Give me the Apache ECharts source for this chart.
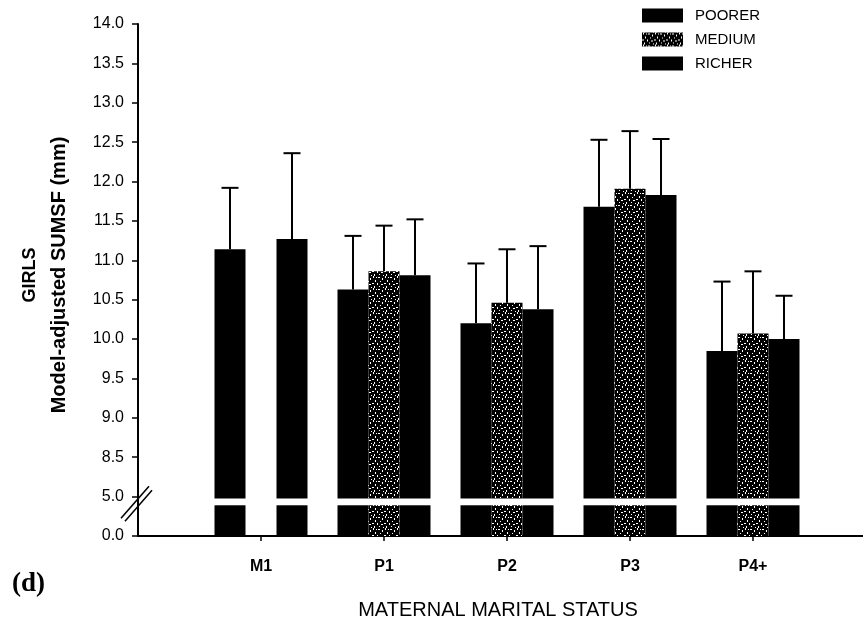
<!DOCTYPE html>
<html>
<head>
<meta charset="utf-8">
<title>GIRLS – Model-adjusted SUMSF by maternal marital status</title>
<script src="https://cdn.jsdelivr.net/npm/echarts@6/dist/echarts.min.js"></script>
<style>
  html, body { margin: 0; padding: 0; background: #fff; }
  #chart { width: 863px; height: 629px; }
</style>
</head>
<body>
<div id="chart"></div>
<script>
// ---- data -------------------------------------------------------------
const categories = ['M1', 'P1', 'P2', 'P3', 'P4+'];
const levels = ['POORER', 'MEDIUM', 'RICHER'];

// model-adjusted means (mm); no MEDIUM group for M1
const poorer = [11.14, 10.63, 10.20, 11.68, 9.85];
const medium = [null, 10.86, 10.46, 11.91, 10.07];
const richer = [11.27, 10.81, 10.38, 11.83, 10.00];

// upper error (SE) drawn above each bar
const poorerSE = [0.78, 0.68, 0.76, 0.85, 0.88];
const mediumSE = [null, 0.58, 0.68, 0.73, 0.79];
const richerSE = [1.09, 0.71, 0.80, 0.71, 0.55];

// y-axis tick labels, one per tick (axis is broken below 8.5)
const yTickLabels = ['0.0', '5.0', '8.5', '9.0', '9.5', '10.0', '10.5',
  '11.0', '11.5', '12.0', '12.5', '13.0', '13.5', '14.0'];

// ---- broken-axis scale: 0–5 and 5–8.5 each squeezed into one tick step
function toAxis(v) {
  if (v <= 5) return v / 5;
  if (v <= 8.5) return 1 + (v - 5) / 3.5;
  return 2 + (v - 8.5) / 0.5;
}
// white cut through every bar at the axis break
const CUT_LOW = toAxis(3.9);
const CUT_HIGH = toAxis(4.75);

// ---- speckled fill for the MEDIUM group
function speckle() {
  const n = 12;
  const c = document.createElement('canvas');
  c.width = n; c.height = n;
  const g = c.getContext('2d');
  g.fillStyle = '#000';
  g.fillRect(0, 0, n, n);
  g.fillStyle = '#fff';
  [[1, 0, 1, 2], [6, 1, 2, 1], [10, 2, 1, 2], [3, 4, 1, 2], [8, 5, 1, 1], [0, 7, 2, 1],
   [5, 7, 1, 2], [9, 8, 2, 1], [2, 10, 1, 2], [7, 10, 1, 1], [11, 11, 1, 1], [4, 1, 1, 1]]
    .forEach(p => g.fillRect(p[0], p[1], p[2], p[3]));
  return { image: c, repeat: 'repeat' };
}
const fills = ['#000', speckle(), '#000'];

const axisCats = [''].concat(categories, ['']);
const BAR_FRAC = 31 / 123;

function seriesData(means, se) {
  const out = [];
  means.forEach((m, i) => {
    if (m == null) return;
    out.push([i + 1, toAxis(m), toAxis(m + se[i])]);
  });
  return out;
}

function renderBar(slot) {
  return function (params, api) {
    const cat = api.value(0);
    const band = api.size([1, 0])[0];
    const w = band * BAR_FRAC;
    const base = api.coord([cat, 0]);
    const cx = base[0] + (slot - 1) * w;
    const x0 = cx - w / 2;
    const yTop = api.coord([cat, api.value(1)])[1];
    const yErr = api.coord([cat, api.value(2)])[1];
    const yCutLo = api.coord([cat, CUT_LOW])[1];
    const yCutHi = api.coord([cat, CUT_HIGH])[1];
    const cap = 17;
    return {
      type: 'group',
      children: [
        { type: 'rect', shape: { x: x0, y: yCutLo, width: w, height: base[1] - yCutLo }, style: { fill: fills[slot] } },
        { type: 'rect', shape: { x: x0, y: yTop, width: w, height: yCutHi - yTop }, style: { fill: fills[slot] } },
        { type: 'line', shape: { x1: cx, y1: yTop, x2: cx, y2: yErr }, style: { stroke: '#000', lineWidth: 2 } },
        { type: 'line', shape: { x1: cx - cap / 2, y1: yErr, x2: cx + cap / 2, y2: yErr }, style: { stroke: '#000', lineWidth: 2 } }
      ]
    };
  };
}

const means = [poorer, medium, richer];
const ses = [poorerSE, mediumSE, richerSE];

const chart = echarts.init(document.getElementById('chart'), null, { renderer: 'canvas' });

const FONT = '"Liberation Sans", Arial, sans-serif';

chart.setOption({
  animation: false,
  backgroundColor: '#fff',
  textStyle: { fontFamily: FONT, color: '#000' },
  grid: { left: 138, top: 24, width: 738, height: 512, containLabel: false, outerBoundsMode: 'none' },
  legend: {
    orient: 'vertical',
    left: 642,
    top: 8,
    padding: 0,
    itemWidth: 41,
    itemHeight: 14,
    itemGap: 9,
    icon: 'rect',
    data: levels,
    textStyle: { fontFamily: FONT, fontSize: 15, color: '#000', padding: [0, 0, 0, 7] }
  },
  xAxis: {
    type: 'category',
    data: axisCats,
    boundaryGap: false,
    name: 'MATERNAL MARITAL STATUS',
    nameLocation: 'middle',
    nameGap: 64,
    nameTextStyle: { fontFamily: FONT, fontSize: 20, color: '#000', padding: [0, 18, 0, 0] },
    axisLine: { lineStyle: { color: '#000', width: 2 } },
    axisTick: {
      length: 5,
      lineStyle: { color: '#000', width: 1.5 },
      interval: (i, v) => v !== ''
    },
    axisLabel: { fontFamily: FONT, fontSize: 16, fontWeight: 'bold', color: '#000', margin: 23, interval: 0 },
    splitLine: { show: false }
  },
  yAxis: {
    type: 'value',
    min: 0,
    max: 13,
    interval: 1,
    name: '{a|GIRLS}\n{b|Model-adjusted SUMSF (mm)}',
    nameLocation: 'middle',
    nameRotate: 90,
    nameGap: 64,
    nameTextStyle: {
      fontFamily: FONT, fontWeight: 'bold', color: '#000', padding: [0, 0, 0, 10],
      rich: {
        a: { fontFamily: FONT, fontSize: 18, fontWeight: 'bold', color: '#000', lineHeight: 29 },
        b: { fontFamily: FONT, fontSize: 20, fontWeight: 'bold', color: '#000', lineHeight: 29 }
      }
    },
    axisLine: { show: true, lineStyle: { color: '#000', width: 2 } },
    axisTick: { show: true, length: 6, lineStyle: { color: '#000', width: 1.5 } },
    axisLabel: {
      fontFamily: FONT, fontSize: 16, color: '#000', margin: 14,
      formatter: v => yTickLabels[Math.round(v)] || ''
    },
    splitLine: { show: false }
  },
  series: levels.map((name, k) => ({
    name,
    type: 'custom',
    renderItem: renderBar(k),
    itemStyle: { color: fills[k] },
    encode: { x: 0, y: [1, 2] },
    data: seriesData(means[k], ses[k]),
    z: 3
  }))
});

// break marks on the value axis and the panel letter
const brk = chart.convertToPixel({ gridIndex: 0 }, [0, toAxis(4.4)]);
chart.setOption({
  graphic: [
    {
      type: 'line', z: 10,
      shape: { x1: brk[0] - 17, y1: brk[1] + 17, x2: brk[0] + 11, y2: brk[1] - 15 },
      style: { stroke: '#000', lineWidth: 1.5 }
    },
    {
      type: 'line', z: 10,
      shape: { x1: brk[0] - 13, y1: brk[1] + 20, x2: brk[0] + 14, y2: brk[1] - 11 },
      style: { stroke: '#000', lineWidth: 1.5 }
    },
    {
      type: 'text', left: 12, top: 571, z: 10,
      style: { text: '(d)', fontFamily: '"Liberation Serif", "DejaVu Serif", serif', fontSize: 27, fontWeight: 'bold', fill: '#000' }
    }
  ]
});
</script>
</body>
</html>
